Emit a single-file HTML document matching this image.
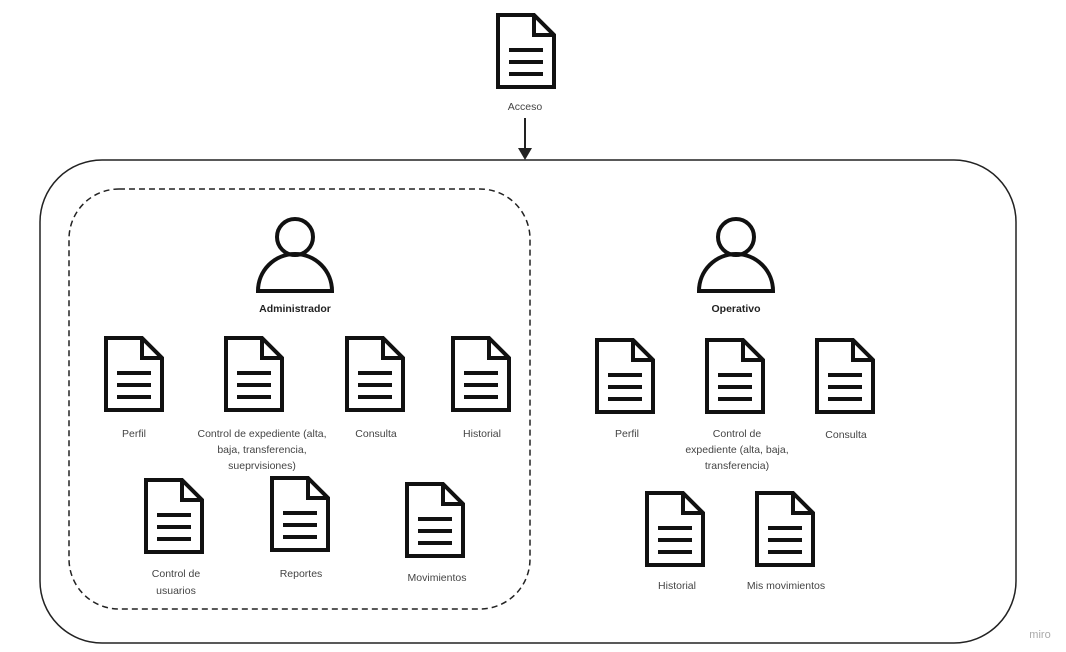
<!DOCTYPE html>
<html><head><meta charset="utf-8"><style>
html,body{margin:0;padding:0;background:#fff;}
svg{display:block}
text{font-family:"Liberation Sans",sans-serif;font-size:10.5px;fill:#444;text-anchor:middle}
</style></head><body>
<svg width="1066" height="652" viewBox="0 0 1066 652">
<defs>
<g id="doc" fill="none" stroke="#111" stroke-width="4" stroke-linejoin="miter">
<path d="M2 2 H38 L58 22 V74 H2 Z"/>
<path d="M38 2 V22 H58"/>
<path d="M13 37 H47 M13 49 H47 M13 61 H47"/>
</g>
<g id="person" fill="none" stroke="#111" stroke-width="4">
<circle cx="0" cy="-30" r="18"/>
<path d="M-37 24 A37 37 0 0 1 37 24 Z"/>
</g>
</defs>
<rect x="40" y="160" width="976" height="483" rx="62" fill="none" stroke="#222" stroke-width="1.5"/>
<rect x="69" y="189" width="461" height="420" rx="50" fill="none" stroke="#222" stroke-width="1.5" stroke-dasharray="6,4"/>
<use href="#doc" x="496" y="13"/>
<text x="525" y="110">Acceso</text>
<line x1="525" y1="118" x2="525" y2="150" stroke="#222" stroke-width="2"/>
<path d="M518 148 L532 148 L525 160 Z" fill="#222"/>
<use href="#person" x="295" y="267"/>
<text x="295" y="312" style="font-weight:bold;fill:#222">Administrador</text>
<use href="#person" x="736" y="267"/>
<text x="736" y="312" style="font-weight:bold;fill:#222">Operativo</text>
<use href="#doc" x="104" y="336"/><text x="134" y="437">Perfil</text>
<use href="#doc" x="224" y="336"/><text x="262" y="437">Control de expediente (alta,</text><text x="262" y="453">baja, transferencia,</text><text x="262" y="469">sueprvisiones)</text>
<use href="#doc" x="345" y="336"/><text x="376" y="437">Consulta</text>
<use href="#doc" x="451" y="336"/><text x="482" y="437">Historial</text>
<use href="#doc" x="144" y="478"/><text x="176" y="577">Control de</text><text x="176" y="594">usuarios</text>
<use href="#doc" x="270" y="476"/><text x="301" y="577">Reportes</text>
<use href="#doc" x="405" y="482"/><text x="437" y="581">Movimientos</text>
<use href="#doc" x="595" y="338"/><text x="627" y="437">Perfil</text>
<use href="#doc" x="705" y="338"/><text x="737" y="437">Control de</text><text x="737" y="453">expediente (alta, baja,</text><text x="737" y="469">transferencia)</text>
<use href="#doc" x="815" y="338"/><text x="846" y="438">Consulta</text>
<use href="#doc" x="645" y="491"/><text x="677" y="589">Historial</text>
<use href="#doc" x="755" y="491"/><text x="786" y="589">Mis movimientos</text>
<text x="1040" y="638" style="fill:#aaa;font-size:11px">miro</text>
</svg>
</body></html>
